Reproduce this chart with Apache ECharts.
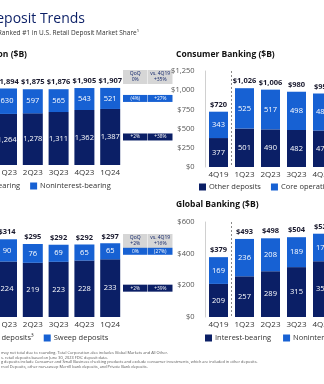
<!DOCTYPE html>
<html><head><meta charset="utf-8">
<script src="https://cdn.jsdelivr.net/npm/echarts@6/dist/echarts.min.js"></script>
<style>html,body{margin:0;padding:0;background:#fff}#c{width:324px;height:384px}</style>
</head><body><div id="c"></div>
<script>
// ---------- DATA ----------
const categories = ['4Q19','1Q23','2Q23','3Q23','4Q23','1Q24'];
// Total Corporation ($B)
const corpInterest    = [1005, 1264, 1278, 1311, 1362, 1387];
const corpNonint      = [410, 630, 597, 565, 543, 521];
const corpTotals      = [1415, 1894, 1875, 1876, 1905, 1907];
const corpTableHead   = [['QoQ','0%'], ['vs. 4Q19','+35%']];
const corpRowNonint   = ['(4%)', '+27%'];
const corpRowInterest = ['+2%', '+38%'];
// Consumer Banking ($B)
const consOther  = [377, 501, 490, 482, 475, 470];
const consCore   = [343, 525, 517, 498, 482, 478];
const consTotals = [720, 1026, 1006, 980, 957, 948];
// GWIM ($B)
const gwimBank   = [168, 224, 219, 223, 228, 233];
const gwimSweep  = [89, 90, 76, 69, 65, 65];
const gwimTotals = [256, 314, 295, 292, 292, 297];
const gwimTableHead = [['QoQ','+2%'], ['vs. 4Q19','+16%']];
const gwimRowSweep  = ['0%', '(27%)'];
const gwimRowBank   = ['+2%', '+39%'];
// Global Banking ($B)
const gbInterest = [209, 257, 289, 315, 352, 356];
const gbNonint   = [169, 236, 208, 189, 174, 167];
const gbTotals   = [379, 493, 498, 504, 526, 523];
// Axis ticks
const consTicks = {max: 1250, interval: 250};
const gbTicks   = {max: 600, interval: 200};
const footnotes = [
  'may not total due to rounding. Total Corporation also includes Global Markets and All Other.',
  's. retail deposits based on June 30, 2023 FDIC deposit data.',
  'g deposits include Consumer and Small Business checking products and exclude consumer investments, which are included in other deposits.',
  'rred Deposits, other non-sweep Merrill bank deposits, and Private Bank deposits.'
];

// ---------- STYLE ----------
const NAVY = '#0b1f66', BLUE = '#1761d3', FONT = '"Open Sans", sans-serif';
const fmt = v => v.toLocaleString('en-US');
const money = v => '$' + fmt(v);

function grid(left, width, top, height) {
  return {left, width, top, height, outerBoundsMode: 'none', containLabel: false};
}
function xAxis(i, dashed) {
  return {
    type: 'category', gridIndex: i, data: categories,
    axisLine: {show: false}, axisTick: {show: false},
    axisLabel: {color: '#333', fontSize: 8, fontFamily: FONT, margin: 4, interval: 0},
    splitLine: {show: dashed, interval: (idx) => idx <= 1, showMinLine: false, showMaxLine: false,
      lineStyle: {type: [2, 2], color: '#8a8a8a', width: 1}}
  };
}
function yAxis(i, max, interval, show) {
  return {
    type: 'value', gridIndex: i, min: 0, max, interval,
    show: true,
    axisLine: {show: show, lineStyle: {color: '#d0d0d0'}},
    axisTick: {show: false},
    splitLine: {show: false},
    axisLabel: {show: show, color: '#555', fontSize: 7.5, fontFamily: FONT, margin: 11,
      formatter: v => money(v)}
  };
}
function stackSeries(i, name, data, color, bw) {
  return {
    type: 'bar', name, data, xAxisIndex: i, yAxisIndex: i, stack: 's' + i,
    barWidth: bw, itemStyle: {color},
    label: {show: true, position: 'inside', color: '#fff', fontSize: 7.5,
      fontFamily: FONT, formatter: p => fmt(p.value)}
  };
}
function totalSeries(i, data, bw) {
  return {
    type: 'bar', name: 'total' + i, data, xAxisIndex: i, yAxisIndex: i,
    barWidth: bw, barGap: '-100%', silent: true, z: 1,
    itemStyle: {color: 'rgba(0,0,0,0)'},
    label: {show: true, position: 'top', distance: 3, color: '#1a1a2e',
      fontSize: 7.5, fontWeight: 'bold', fontFamily: FONT, formatter: p => money(p.value)}
  };
}
function legend(left, top, names) {
  return {
    left, top, width: 600, data: names, icon: 'rect', itemWidth: 7, itemHeight: 7, itemGap: 10,
    orient: 'horizontal', selectedMode: false, padding: 0,
    textStyle: {color: '#333', fontSize: 7.5, fontFamily: FONT, padding: [0, 0, 0, -2]}
  };
}

const chart = echarts.init(document.getElementById('c'), null, {renderer: 'canvas'});
chart.setOption({
  animation: false,
  backgroundColor: '#fff',
  grid: [
    grid(-31.7, 154.8, 64, 101),
    grid(205.5, 156, 71, 96),
    grid(-31.7, 154.8, 218, 99),
    grid(205.5, 156, 222, 95)
  ],
  xAxis: [xAxis(0, true), xAxis(1, true), xAxis(2, true), xAxis(3, true)],
  yAxis: [
    yAxis(0, 2500, 500, false),
    yAxis(1, consTicks.max, consTicks.interval, true),
    yAxis(2, 400, 100, false),
    yAxis(3, gbTicks.max, gbTicks.interval, true)
  ],
  legend: [
    legend(-46, 182, ['Interest-bearing', 'Noninterest-bearing']),
    legend(199, 183, ['Other deposits', 'Core operating deposits²']),
    legend(-28, 334, ['Bank deposits³', 'Sweep deposits']),
    legend(205, 334, ['Interest-bearing ', 'Noninterest-bearing '])
  ],
  series: [
    stackSeries(0, 'Interest-bearing', corpInterest, NAVY, 20),
    stackSeries(0, 'Noninterest-bearing', corpNonint, BLUE, 20),
    totalSeries(0, corpTotals, 20),
    stackSeries(1, 'Other deposits', consOther, NAVY, 19),
    stackSeries(1, 'Core operating deposits²', consCore, BLUE, 19),
    totalSeries(1, consTotals, 19),
    stackSeries(2, 'Bank deposits³', gwimBank, NAVY, 20),
    stackSeries(2, 'Sweep deposits', gwimSweep, BLUE, 20),
    totalSeries(2, gwimTotals, 20),
    stackSeries(3, 'Interest-bearing ', gbInterest, NAVY, 19),
    stackSeries(3, 'Noninterest-bearing ', gbNonint, BLUE, 19),
    totalSeries(3, gbTotals, 19)
  ]
});

// ---------- annotations (titles, tables, footnotes) ----------
const g = [];
function txt(x, y, text, size, opts) {
  g.push({type: 'text', silent: true, style: Object.assign({
    x, y, text, fill: '#222', font: (opts && opts.weight || 'normal') + ' ' + size + 'px ' + FONT,
    textAlign: 'left', textVerticalAlign: 'middle'}, opts && opts.style || {})});
}
txt(85, 19, 'Deposit Trends', 14, {style: {textAlign: 'right', fill: NAVY}});
txt(139, 33, 'Ranked #1 in U.S. Retail Deposit Market Share¹', 6.5, {style: {textAlign: 'right', fill: '#333'}});
txt(27, 55, 'Total Corporation ($B)', 8.5, {weight: 'bold', style: {textAlign: 'right', fill: '#111'}});
txt(176, 55, 'Consumer Banking ($B)', 8.5, {weight: 'bold', style: {fill: '#111'}});
txt(176, 205, 'Global Banking ($B)', 8.5, {weight: 'bold', style: {fill: '#111'}});
footnotes.forEach((t, i) => txt(1, 353 + i * 4.5, t, 3.9, {style: {fill: '#555'}}));

const colX = [123, 148], colW = 24.5;
function table(gridIdx, headTop, head, rowTop, rowBottom, lowVal, topVal) {
  head.forEach((h, c) => {
    g.push({type: 'rect', silent: true, shape: {x: colX[c], y: headTop, width: colW, height: 14},
      style: {fill: '#d6d6d6'}});
    txt(colX[c] + colW / 2, headTop + 4, h[0], 5, {style: {textAlign: 'center', fill: NAVY}});
    txt(colX[c] + colW / 2, headTop + 10, h[1], 5, {style: {textAlign: 'center', fill: NAVY}});
  });
  const last = categories.length - 1;
  const yLow = chart.convertToPixel({xAxisIndex: gridIdx, yAxisIndex: gridIdx}, [last, lowVal / 2])[1];
  const yTop = chart.convertToPixel({xAxisIndex: gridIdx, yAxisIndex: gridIdx}, [last, lowVal + topVal / 2])[1];
  [[yTop, rowTop, BLUE], [yLow, rowBottom, NAVY]].forEach(([y, vals, col]) => {
    vals.forEach((v, c) => {
      g.push({type: 'rect', silent: true, shape: {x: colX[c], y: y - 3.5, width: colW, height: 7},
        style: {fill: col}});
      txt(colX[c] + colW / 2, y, v, 4.8, {style: {textAlign: 'center', fill: '#fff'}});
    });
  });
}
table(0, 70, corpTableHead, corpRowNonint, corpRowInterest, corpInterest[5], corpNonint[5]);
table(2, 234, gwimTableHead, gwimRowSweep, gwimRowBank, gwimBank[5], gwimSweep[5]);
chart.setOption({graphic: g});
</script></body></html>
